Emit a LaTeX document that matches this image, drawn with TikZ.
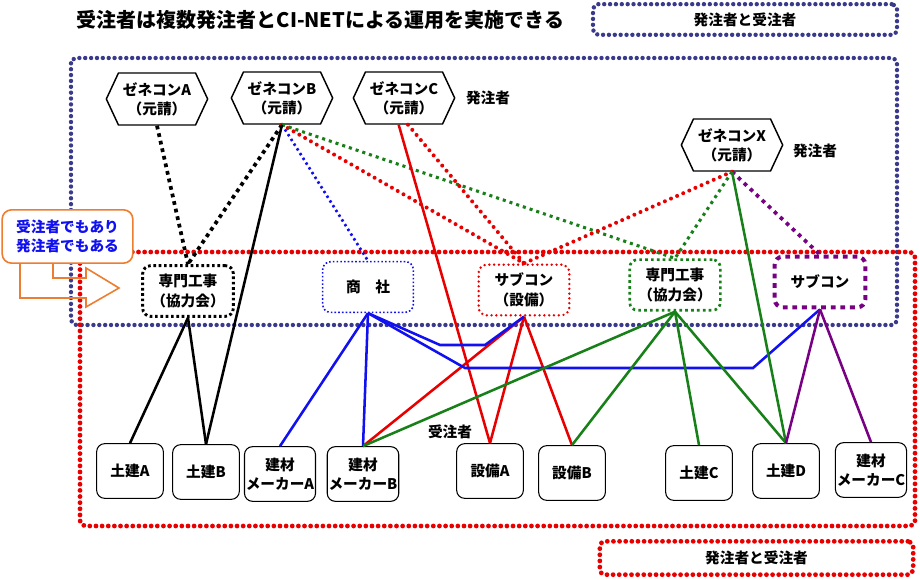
\documentclass[tikz,border=0pt]{standalone}
\usepackage{fontspec}
\setmainfont{Noto Sans CJK JP}
\usepackage{tikz}
\usetikzlibrary{shapes.symbols}

\definecolor{navyd}{RGB}{58,58,140}
\definecolor{redd}{RGB}{232,0,0}
\definecolor{bluel}{RGB}{16,16,240}
\definecolor{greenl}{RGB}{24,128,24}
\definecolor{purplel}{RGB}{120,0,130}
\definecolor{orangec}{RGB}{237,125,49}

\tikzset{
  hexa/.style={signal, signal to=west and east, signal pointer angle=130, draw, line width=1.1pt, fill=white,
    minimum width=76pt, minimum height=39pt, align=center, inner sep=1pt},
  mid/.style={rounded corners=6pt, fill=white, minimum width=68pt, minimum height=38pt, align=center, inner sep=1pt},
  leaf/.style={draw, rounded corners=6pt, line width=0.8pt, fill=white, minimum width=50pt, minimum height=41pt, align=center, inner sep=1pt},
  navydots/.style={draw=navyd, line width=3.3pt, dash pattern=on 0pt off 4.4pt, line cap=round, rounded corners=4pt},
  reddots/.style={draw=redd, line width=3.6pt, dash pattern=on 0pt off 4.6pt, line cap=round, rounded corners=4pt},
  dotk/.style={line width=2.8pt, dash pattern=on 2.8pt off 3pt},
  dotb/.style={bluel, line width=2pt, dash pattern=on 1.8pt off 2.4pt},
  dotr/.style={redd, line width=3pt, dash pattern=on 0pt off 5pt, line cap=round},
  dotg/.style={greenl, line width=2.3pt, dash pattern=on 2.3pt off 3pt},
  dotp/.style={purplel, line width=2.8pt, dash pattern=on 2.8pt off 3.4pt},
  solk/.style={line width=1.9pt},
  solr/.style={redd, line width=1.9pt},
  solb/.style={bluel, line width=1.9pt},
  solg/.style={greenl, line width=1.9pt},
  solp/.style={purplel, line width=1.9pt}
}

\begin{document}
\begin{tikzpicture}[x=0.75pt, y=-0.75pt, font=\fontsize{11}{14.5}\selectfont\bfseries]
\useasboundingbox (0,0) rectangle (920,580);

\node[anchor=west, font=\fontsize{15}{17}\selectfont\bfseries] (title) at (72,20) {受注者は複数発注者とCI-NETによる運用を実施できる};
\node[navydots, minimum width=228pt, minimum height=23pt] (legtop) at (745,19.5) {発注者と受注者};
\node[reddots, minimum width=235pt, minimum height=25pt] (legbot) at (756.5,558) {発注者と受注者};

\draw[navydots] (71,58) rectangle (897,325);
\draw[reddots] (80,252) rectangle (915,526);

\draw[orangec, line width=1.2pt, line join=miter] (20,263) -- (20,298) -- (86,298) -- (86,307) -- (119,288) -- (86,268) -- (86,278) -- (53,278) -- (53,263);
\node[draw=orangec, line width=1.2pt, rounded corners=7pt, fill=white, text=bluel, align=left, minimum width=98pt, minimum height=40pt, inner sep=2pt] (both) at (67.5,236.5) {受注者でもあり\\発注者でもある};

\foreach \nm/\x/\y/\l in {hA/157/99/A, hB/282/98/B, hC/404/98/C, hX/732/145/X}
  \node[hexa] (\nm) at (\x,\y) {ゼネコン\l\\（元請）};
\node (ordC) at (488,98) {発注者};
\node (ordX) at (815,151) {発注者};

\node[mid, draw=black, line width=2.2pt, dash pattern=on 2pt off 2pt] (kyoK) at (188,291) {専門工事\\（協力会）};
\node[mid, draw=bluel, line width=1.2pt, dash pattern=on 1.2pt off 1.6pt] (shosha) at (368,287) {商　社};
\node[mid, draw=redd, line width=2pt, dash pattern=on 0pt off 3.6pt, line cap=round] (subS) at (524,290) {サブコン\\（設備）};
\node[mid, draw=greenl, line width=2pt, dash pattern=on 2pt off 2.4pt] (kyoG) at (675,285) {専門工事\\（協力会）};
\node[mid, draw=purplel, line width=3pt, dash pattern=on 3.6pt off 3.6pt] (subP) at (820,282) {サブコン};

\foreach \nm/\x/\y/\t in {dA/130/471/土建A, dB/206/472/土建B, zA/280/474/{建材\\メーカーA}, zB/363/474/{建材\\メーカーB},
  sA/490/471/設備A, sB/572/473/設備B, dC/699/473/土建C, dD/786/471/土建D, zC/871/470/{建材\\メーカーC}}
  \node[leaf] (\nm) at (\x,\y) {\t};
\node (rcv) at (450,432) {受注者};

\draw[dotk] (hA.south) -- (kyoK.north);
\draw[dotk] (hB.south) -- (kyoK.north);
\draw[dotb] (hB.south) -- (shosha.north);
\draw[dotr] (hB.south) -- (subS.north);
\draw[dotg] (hB.south) -- (kyoG.north);
\draw[dotr] ([xshift=3pt]hC.south) -- (subS.north);
\draw[dotr] (hX.south) -- (subS.north);
\draw[dotg] (hX.south) -- (kyoG.north);
\draw[dotp] (hX.south) -- (subP.north);

\draw[solk] (hB.south) -- (dB.north);
\draw[solk] (kyoK.south) -- (dA.north);
\draw[solk] (kyoK.south) -- (dB.north);
\draw[solr] ([xshift=-4pt]hC.south) -- (sA.north);
\foreach \t in {zB, sA, sB}
  \draw[solr] (subS.south) -- (\t.north);
\draw[solb] (shosha.south) -- (zA.north);
\draw[solb] (shosha.south) -- (zB.north);
\draw[solb] (shosha.south) -- (440,345) -- (485,345) -- (subS.south);
\draw[solb] (shosha.south) -- (465,368) -- (753,368) -- (subP.south);
\foreach \t in {zB, sB, dC, dD}
  \draw[solg] (kyoG.south) -- (\t.north);
\draw[solg] (hX.south) -- (dD.north);
\draw[solp] (subP.south) -- (dD.north);
\draw[solp] (subP.south) -- (zC.north);
\end{tikzpicture}
\end{document}
